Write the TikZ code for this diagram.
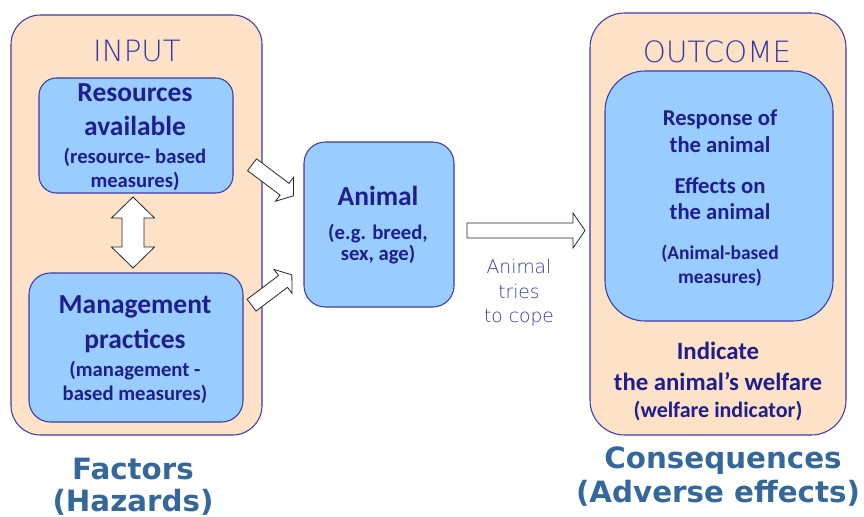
\documentclass[tikz,border=0pt]{standalone}
\usepackage{fontspec}
\setmainfont{Carlito}
\newfontfamily\thinfont{DejaVu Sans ExtraLight}
\newfontfamily\verd{DejaVu Sans}
\definecolor{peach}{RGB}{253,226,200}
\definecolor{skyb}{RGB}{153,204,255}
\definecolor{navy}{RGB}{30,30,140}
\definecolor{bordb}{RGB}{60,60,170}
\definecolor{thinb}{RGB}{55,55,165}
\definecolor{steel}{RGB}{52,104,154}
\tikzset{
  outerbox/.style={draw=bordb, fill=peach, line width=0.8pt, inner sep=0, rounded corners=#1},
  innerbox/.style={draw=bordb, fill=skyb, line width=0.8pt, inner sep=0, rounded corners=#1},
  bt/.style={anchor=base, inner sep=0, text=navy, font=\bfseries\fontsize{#1}{#1}\selectfont},
  tt/.style={anchor=base, inner sep=0, text=thinb, font=\thinfont\fontsize{#1}{#1}\selectfont},
  big/.style={anchor=base, inner sep=0, text=steel, font=\verd\bfseries\fontsize{22}{22}\selectfont},
  arrowsty/.style={draw=black!85, fill=white, line width=0.6pt, line join=miter},
  pics/barrow/.style n args={4}{code={
    \draw[arrowsty] ({-#1/2},{-#2/2}) -- ({#1/2-#4},{-#2/2}) -- ({#1/2-#4},{-#3/2}) -- ({#1/2},0)
      -- ({#1/2-#4},{#3/2}) -- ({#1/2-#4},{#2/2}) -- ({-#1/2},{#2/2}) -- cycle;}},
  pics/dbarrow/.style n args={4}{code={
    \draw[arrowsty] ({-#1/2},0) -- ({-#1/2+#4},{#3/2}) -- ({-#1/2+#4},{#2/2}) -- ({#1/2-#4},{#2/2})
      -- ({#1/2-#4},{#3/2}) -- ({#1/2},0) -- ({#1/2-#4},{-#3/2}) -- ({#1/2-#4},{-#2/2})
      -- ({-#1/2+#4},{-#2/2}) -- ({-#1/2+#4},{-#3/2}) -- cycle;}}
}
\begin{document}
\begin{tikzpicture}[x=0.75pt,y=-0.75pt]
\useasboundingbox (0,0) rectangle (864,517);
% left group
\node[outerbox=22pt, minimum width=188.25pt, minimum height=315pt] (input) at (136.5,225) {};
\node[tt=22] (inputlbl) at (137,62) {INPUT};
\node[innerbox=13pt, minimum width=145.5pt, minimum height=86.25pt] (res) at (136,135.5) {};
\node[bt=20.6] (r1) at (135,102) {Resources};
\node[bt=20.6] (r2) at (135,136) {available};
\node[bt=15.5] (r3) at (135,163) {(resource- based};
\node[bt=15.5] (r4) at (135,187) {measures)};
\node[innerbox=16pt, minimum width=160.5pt, minimum height=111.75pt] (man) at (136,347.5) {};
\node[bt=20.6] (m1) at (135,313) {Management};
\node[bt=20.6] (m2) at (135,348) {practices};
\node[bt=15.5] (m3) at (135,376) {(management -};
\node[bt=15.5] (m4) at (135,400) {based measures)};
\pic[rotate=90] at (133,232.5) {dbarrow={71}{22}{43}{21}};
\node[big] (f1) at (133,479) {Factors};
\node[big] (f2) at (133,511) {(Hazards)};
% animal
\node[innerbox=16pt, minimum width=112.5pt, minimum height=123.75pt] (animal) at (379,224.5) {};
\node[bt=20.6] (a1) at (378,205) {Animal};
\node[bt=15.5] (a2) at (378,239) {(e.g. breed,};
\node[bt=15.5] (a3) at (378,260) {sex, age)};
\pic[rotate=-37] at (272.7,180.3) {barrow={51.7}{14.8}{30}{11}};
\pic[rotate=37] at (271.7,290) {barrow={50.4}{14.8}{30}{11}};
\pic at (526,230.5) {barrow={118}{15}{35}{12}};
\node[tt=14] (c1) at (519,273) {Animal};
\node[tt=14] (c2) at (519,298) {tries};
\node[tt=14] (c3) at (519,322) {to cope};
% right group
\node[outerbox=26pt, minimum width=192pt, minimum height=316.5pt] (outcome) at (718,224) {};
\node[tt=22] (outlbl) at (717,63) {OUTCOME};
\node[innerbox=30pt, minimum width=171pt, minimum height=187.5pt] (resp) at (719,196) {};
\node[bt=17] (o1) at (720,125) {Response of};
\node[bt=17] (o2) at (720,152) {the animal};
\node[bt=17] (o3) at (720,193) {Effects on};
\node[bt=17] (o4) at (720,219) {the animal};
\node[bt=14.6] (o5) at (720,259) {(Animal-based};
\node[bt=14.6] (o6) at (720,283) {measures)};
\node[bt=18.6] (w1) at (718,359) {Indicate};
\node[bt=18.6] (w2) at (718,390) {the animal’s welfare};
\node[bt=16.5] (w3) at (718,417) {(welfare indicator)};
\node[big] (k1) at (723,468) {Consequences};
\node[big] (k2) at (718,502) {(Adverse effects)};
\end{tikzpicture}
\end{document}
